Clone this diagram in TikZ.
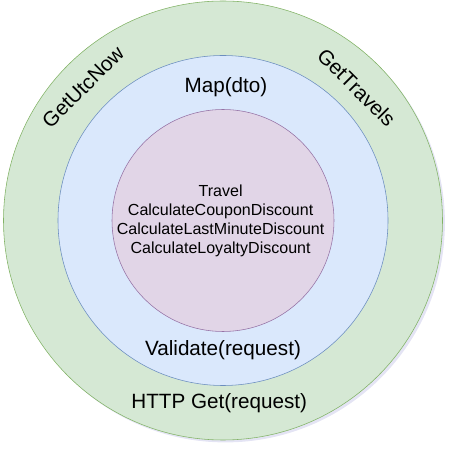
\documentclass[tikz,border=0pt]{standalone}
\usepackage{fontspec}
\setmainfont{Liberation Sans}
\usetikzlibrary{positioning}

\definecolor{outerfill}{HTML}{D5E8D4}
\definecolor{outerline}{HTML}{82B366}
\definecolor{midfill}{HTML}{DAE8FC}
\definecolor{midline}{HTML}{6C8EBF}
\definecolor{corefill}{HTML}{E1D5E7}
\definecolor{coreline}{HTML}{9673A6}

\begin{document}
\begin{tikzpicture}[
  biglabel/.style={font=\fontsize{14.7}{17}\selectfont, inner sep=0pt},
  corelabel/.style={font=\fontsize{11.4}{13.44}\selectfont, align=center, inner sep=0pt}]
\useasboundingbox (-5.575,-5.7875) rectangle (5.725,5.5125);

\fill [black!40!blue!30,opacity=0.35](0.06,-0.06) circle(5.4875);
\draw [fill=outerfill,draw=outerline](0,0) circle(5.4875);
\draw [fill=midfill,draw=midline](0,0) circle(4.125);
\draw [fill=corefill,draw=coreline](0,0) circle(2.775);

\node [biglabel] (map) at (0.075,3.33) {Map(dto)};
\node [biglabel] (validate) at (0,-3.24) {Validate(request)};
\node [biglabel] (http) at (-0.095,-4.57) {HTTP Get(request)};
\node [biglabel,rotate=45] (utcnow) at (-3.5,3.34) {GetUtcNow};
\node [biglabel,rotate=-45] (travels) at (3.34,3.325) {GetTravels};

\node [corelabel] (core) at (-0.06,-0.01) {Travel\\CalculateCouponDiscount\\CalculateLastMinuteDiscount\\CalculateLoyaltyDiscount};

\end{tikzpicture}
\end{document}
